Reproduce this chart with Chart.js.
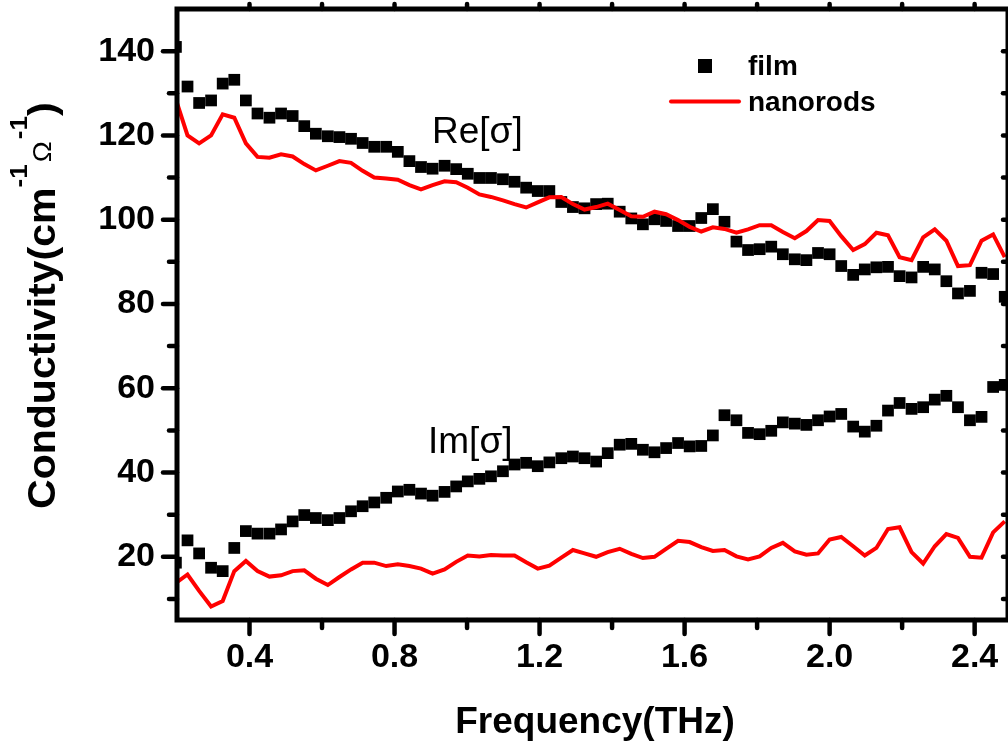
<!DOCTYPE html>
<html>
<head>
<meta charset="utf-8">
<title>Conductivity vs frequency</title>
<script src="https://cdn.jsdelivr.net/npm/chart.js@4.4.1/dist/chart.umd.min.js"></script>
<style>
  html, body { margin: 0; padding: 0; background: #fff; }
  #wrap { width: 1008px; height: 744px; }
</style>
</head>
<body>
<div id="wrap"><canvas id="sigmaChart" width="1008" height="744"></canvas></div>
<script>
// frequency grid (THz)
const freq = [
  0.197, 0.229, 0.261, 0.294, 0.326, 0.358, 0.390, 0.422, 0.455, 0.487,
  0.519, 0.551, 0.583, 0.616, 0.648, 0.680, 0.712, 0.744, 0.777, 0.809,
  0.841, 0.873, 0.905, 0.938, 0.970, 1.002, 1.034, 1.066, 1.099, 1.131,
  1.163, 1.195, 1.227, 1.260, 1.292, 1.324, 1.356, 1.388, 1.421, 1.453,
  1.485, 1.517, 1.549, 1.582, 1.614, 1.646, 1.678, 1.710, 1.743, 1.775,
  1.807, 1.839, 1.871, 1.904, 1.936, 1.968, 2.000, 2.032, 2.065, 2.097,
  2.129, 2.161, 2.193, 2.226, 2.258, 2.290, 2.322, 2.354, 2.387, 2.419,
  2.451, 2.483
];

// film, Re[sigma]
const filmRe = [
  141.0, 131.6, 127.7, 128.3, 132.3, 133.2, 128.3, 125.2, 124.2, 125.2,
  124.6, 122.2, 120.4, 119.8, 119.6, 119.2, 118.2, 117.3, 117.3, 116.1,
  113.9, 112.5, 112.1, 112.8, 112.0, 110.9, 109.9, 109.9, 109.6, 109.0,
  107.6, 106.8, 106.8, 104.2, 103.0, 102.7, 103.7, 103.8, 101.9, 100.3,
  98.9, 100.1, 99.7, 98.5, 98.5, 100.4, 102.5, 99.5, 94.8, 92.8,
  93.0, 93.6, 91.8, 90.6, 90.4, 92.1, 91.8, 89.0, 86.9, 88.2,
  88.7, 88.8, 86.6, 86.3, 88.8, 88.2, 85.4, 82.5, 83.1, 87.4,
  87.1, 81.7
];

// film, Im[sigma]
const filmIm = [
  18.6, 23.9, 20.8, 17.4, 16.6, 22.1, 26.1, 25.5, 25.5, 26.5,
  28.4, 29.9, 29.2, 28.7, 29.2, 30.8, 32.0, 32.9, 34.0, 35.5,
  35.9, 35.0, 34.5, 35.4, 36.7, 37.9, 38.5, 39.1, 40.3, 41.9,
  42.3, 41.5, 42.4, 43.4, 43.8, 43.4, 42.6, 44.6, 46.6, 46.8,
  45.4, 44.8, 45.8, 47.0, 46.2, 46.3, 48.8, 53.6, 52.4, 49.4,
  49.1, 49.9, 51.9, 51.6, 51.3, 52.4, 53.3, 53.9, 50.9, 49.7,
  51.1, 54.7, 56.5, 55.1, 55.5, 57.3, 58.2, 55.5, 52.4, 53.2,
  60.3, 60.8
];

// nanorods, Re[sigma]
const rodRe = [
  128.5, 120.0, 118.1, 120.0, 125.0, 124.2, 118.1, 114.9, 114.7, 115.5,
  115.0, 113.2, 111.7, 112.8, 113.9, 113.5, 111.6, 110.0, 109.8, 109.5,
  108.2, 107.2, 108.2, 109.1, 108.9, 107.6, 106.0, 105.4, 104.6, 103.7,
  102.9, 104.1, 105.3, 105.4, 103.7, 102.4, 103.0, 103.8, 102.3, 100.8,
  100.7, 101.9, 101.3, 99.9, 98.3, 97.2, 98.2, 97.8, 96.9, 97.7,
  98.7, 98.7, 97.1, 95.6, 97.3, 99.9, 99.7, 96.1, 92.8, 94.2,
  96.9, 96.3, 91.1, 90.4, 95.8, 97.7, 95.0, 89.0, 89.2, 95.0,
  96.5, 91.1
];

// nanorods, Im[sigma]
const rodIm = [
  13.8, 15.8, 11.9, 8.2, 9.5, 16.6, 19.0, 16.6, 15.3, 15.6,
  16.6, 16.8, 14.8, 13.3, 15.2, 17.0, 18.6, 18.6, 17.8, 18.2,
  17.8, 17.2, 16.0, 17.0, 18.8, 20.3, 20.1, 20.4, 20.3, 20.3,
  18.7, 17.2, 17.9, 19.8, 21.6, 20.8, 20.0, 21.1, 21.9, 20.7,
  19.7, 20.0, 21.9, 23.8, 23.5, 22.3, 21.4, 21.6, 20.1, 19.4,
  20.1, 22.1, 23.3, 21.3, 20.5, 20.8, 24.1, 24.7, 22.5, 20.3,
  22.1, 26.6, 27.0, 21.1, 18.4, 22.5, 25.4, 24.5, 20.0, 19.8,
  25.8, 28.4
];

const xTicks = [0.4, 0.8, 1.2, 1.6, 2.0, 2.4];
const xMinor = [0.6, 1.0, 1.4, 1.8, 2.2];
const yTicks = [20, 40, 60, 80, 100, 120, 140];
const yMinor = [10, 30, 50, 70, 90, 110, 130];

const FONT = '"Liberation Sans", Arial, sans-serif';

function pts(ys) {
  return freq.map((f, i) => ({ x: f, y: ys[i] }));
}

// text runs with shifted baselines (superscripts)
function drawRuns(ctx, runs, x0, y0) {
  let x = x0;
  runs.forEach(r => {
    ctx.font = r.font;
    ctx.fillText(r.text, x, y0 + r.dy);
    x += ctx.measureText(r.text).width + (r.gap || 0);
  });
}

const framePlugin = {
  id: 'frame',
  afterDatasetsDraw(chart) {
    const { ctx, chartArea: a, scales: { x, y } } = chart;
    ctx.save();
    ctx.strokeStyle = '#000';
    ctx.fillStyle = '#000';

    // ticks
    ctx.lineWidth = 4.5;
    ctx.lineCap = 'round';
    const seg = (x1, y1, x2, y2) => {
      ctx.beginPath(); ctx.moveTo(x1, y1); ctx.lineTo(x2, y2); ctx.stroke();
    };
    xTicks.forEach(v => { const p = x.getPixelForValue(v); seg(p, a.bottom, p, a.bottom + 14); });
    xMinor.forEach(v => { const p = x.getPixelForValue(v); seg(p, a.bottom, p, a.bottom + 8); });
    xTicks.concat(xMinor).forEach(v => { const p = x.getPixelForValue(v); seg(p, a.top, p, a.top - 5); });
    yTicks.forEach(v => { const p = y.getPixelForValue(v); seg(a.left, p, a.left - 14, p); });
    yMinor.forEach(v => { const p = y.getPixelForValue(v); seg(a.left, p, a.left - 8, p); });
    yTicks.concat(yMinor).forEach(v => { const p = y.getPixelForValue(v); seg(a.right, p, a.right - 5, p); });

    // frame
    ctx.lineCap = 'butt';
    ctx.lineWidth = 5;
    ctx.strokeRect(a.left, a.top, a.right - a.left, a.bottom - a.top);

    // x title
    ctx.textAlign = 'center';
    ctx.textBaseline = 'alphabetic';
    ctx.font = 'bold 37px ' + FONT;
    ctx.fillText('Frequency(THz)', 595, 733);

    // y title, rotated
    ctx.save();
    ctx.translate(55, 509);
    ctx.rotate(-Math.PI / 2);
    ctx.scale(1.08, 1);
    ctx.textAlign = 'left';
    drawRuns(ctx, [
      { text: 'Conductivity(cm', font: 'bold 38px ' + FONT, dy: 0 },
      { text: '-1', font: 'bold 24px ' + FONT, dy: -28, gap: 2 },
      { text: 'Ω', font: '26px ' + FONT, dy: -4, gap: 2 },
      { text: '-1', font: 'bold 24px ' + FONT, dy: -28 },
      { text: ')', font: 'bold 38px ' + FONT, dy: 0 }
    ], 0, 0);
    ctx.restore();

    // curve labels
    ctx.textAlign = 'left';
    ctx.font = '37px ' + FONT;
    ctx.fillText('Re[σ]', 432, 143);
    ctx.fillText('Im[σ]', 428, 453);

    // legend
    ctx.fillRect(698, 59, 14, 14);
    ctx.strokeStyle = '#ff0000';
    ctx.lineWidth = 4;
    ctx.lineCap = 'round';
    seg(671, 101.5, 739, 101.5);
    ctx.font = 'bold 28px ' + FONT;
    ctx.fillText('film', 748, 75);
    ctx.fillText('nanorods', 748, 111);
    ctx.restore();
  }
};

const ctx = document.getElementById('sigmaChart').getContext('2d');

const sigmaChart = new Chart(ctx, {
  type: 'scatter',
  data: {
    datasets: [
      {
        label: 'nanorods',
        data: pts(rodRe),
        showLine: true,
        borderColor: '#ff0000',
        borderWidth: 4,
        pointRadius: 0,
        clip: 0
      },
      {
        label: 'nanorods Im',
        data: pts(rodIm),
        showLine: true,
        borderColor: '#ff0000',
        borderWidth: 4,
        pointRadius: 0,
        clip: 0
      },
      {
        label: 'film',
        data: pts(filmRe),
        pointStyle: 'rect',
        pointRadius: 8.3,
        pointBorderWidth: 0,
        backgroundColor: '#000',
        borderColor: '#000',
        clip: 0
      },
      {
        label: 'film Im',
        data: pts(filmIm),
        pointStyle: 'rect',
        pointRadius: 8.3,
        pointBorderWidth: 0,
        backgroundColor: '#000',
        borderColor: '#000',
        clip: 0
      }
    ]
  },
  options: {
    responsive: false,
    animation: false,
    devicePixelRatio: 1,
    layout: {
      autoPadding: false,
      padding: { top: 9, right: 0, left: 0, bottom: 0 }
    },
    plugins: {
      legend: { display: false },
      tooltip: { enabled: false }
    },
    scales: {
      x: {
        type: 'linear',
        position: 'bottom',
        min: 0.2,
        max: 2.492,
        afterBuildTicks: s => { s.ticks = xTicks.map(v => ({ value: v })); },
        afterFit: s => {
          s.height = 124;
          s.paddingLeft = 0;
          s.paddingRight = 0;
        },
        grid: { display: false, drawTicks: false },
        border: { display: false },
        ticks: {
          color: '#000',
          padding: 0,
          maxRotation: 0,
          autoSkip: false,
          font: { family: FONT, size: 34, weight: 'bold', lineHeight: 2.2 },
          callback: v => v.toFixed(1)
        }
      },
      y: {
        type: 'linear',
        position: 'left',
        min: 5,
        max: 150,
        afterBuildTicks: s => { s.ticks = yTicks.map(v => ({ value: v })); },
        afterFit: s => {
          s.width = 177;
          s.paddingTop = 0;
          s.paddingBottom = 0;
        },
        grid: { display: false, drawTicks: false },
        border: { display: false },
        ticks: {
          color: '#000',
          padding: 22,
          font: { family: FONT, size: 34, weight: 'bold' }
        }
      }
    }
  },
  plugins: [framePlugin]
});
</script>
</body>
</html>
